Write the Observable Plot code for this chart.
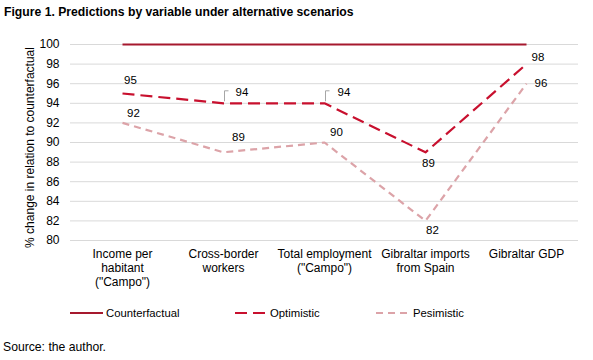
<!DOCTYPE html>
<html><head><meta charset="utf-8">
<script src="https://cdn.jsdelivr.net/npm/d3@7"></script>
<script src="https://cdn.jsdelivr.net/npm/@observablehq/plot@0.6"></script>
<style>
body{margin:0;width:593px;height:360px;background:#fff;font-family:"Liberation Sans",Arial,sans-serif;position:relative;overflow:hidden;color:#000}
#title{position:absolute;left:4px;top:5px;font-weight:bold;font-size:12.2px}
#chart{position:absolute;left:0;top:30px}
.item{position:absolute;top:305px;height:16px;display:flex;align-items:center;font-size:11.3px}
.item svg{margin-right:3px}
#source{position:absolute;left:3px;top:340px;font-size:12.2px}
</style></head><body>
<div id="title">Figure 1. Predictions by variable under alternative scenarios</div>
<div id="chart"></div>
<div class="item" style="left:70px"><svg width="33" height="4"><line x1="0" x2="33" y1="2" y2="2" stroke="#a6192e" stroke-width="2"/></svg>Counterfactual</div>
<div class="item" style="left:235px"><svg width="32" height="4"><line x1="0" x2="32" y1="2" y2="2" stroke="#c8102e" stroke-width="2.2" stroke-dasharray="12,6"/></svg>Optimistic</div>
<div class="item" style="left:376px"><svg width="34" height="4"><line x1="0" x2="34" y1="2" y2="2" stroke="#dca3a8" stroke-width="2.2" stroke-dasharray="7,5"/></svg>Pesimistic</div>
<div id="source">Source: the author.</div>
<script>
// ---- data ----
const categories = [
  "Income per\nhabitant\n(\"Campo\")",
  "Cross-border\nworkers",
  "Total employment\n(\"Campo\")",
  "Gibraltar imports\nfrom Spain",
  "Gibraltar GDP"
];
const counterfactual = [100, 100, 100, 100, 100];
const optimistic = [95, 94, 94, 89, 98];
const pesimistic = [92, 89, 90, 82, 96];
const yTicks = [80, 82, 84, 86, 88, 90, 92, 94, 96, 98, 100];
const seriesNames = ["Counterfactual", "Optimistic", "Pesimistic"];

// ---- styling / label placement (not data) ----
const colors = {Counterfactual: "#a6192e", Optimistic: "#c8102e", Pesimistic: "#dca3a8"};
const dashes = {Counterfactual: null, Optimistic: "12,6", Pesimistic: "7,5"};
const optLabelOffsets = [
  {dx: 8, dy: -13, anchor: "middle"},
  {dx: 12, dy: -11, anchor: "start", leader: true},
  {dx: 13, dy: -11, anchor: "start", leader: true},
  {dx: 3, dy: 11, anchor: "middle"},
  {dx: 5, dy: -7, anchor: "start"}
];
const pesLabelOffsets = [
  {dx: 11, dy: -10, anchor: "middle"},
  {dx: 15, dy: -15, anchor: "middle"},
  {dx: 12, dy: -10, anchor: "middle"},
  {dx: 7, dy: 9, anchor: "middle"},
  {dx: 8, dy: 0, anchor: "start"}
];

const seriesValues = [counterfactual, optimistic, pesimistic];
const rows = seriesNames.flatMap((s, si) => categories.map((c, i) => ({series: s, category: c, value: seriesValues[si][i]})));
const optRows = rows.filter(d => d.series === "Optimistic");
const pesRows = rows.filter(d => d.series === "Pesimistic");

function labelMarks(data, offs) {
  return data.map((d, i) => Plot.text([d], {
    x: "category", y: "value", text: d => String(d.value),
    dx: offs[i].dx, dy: offs[i].dy, textAnchor: offs[i].anchor,
    fill: "#000", fontSize: 11.5
  }));
}

function leaders(index, scales) {
  const g = d3.create("svg:g").attr("fill", "none").attr("stroke", "#a6a6a6").attr("stroke-width", 1);
  optRows.forEach((d, i) => {
    if (!optLabelOffsets[i].leader) return;
    const px = scales.x(d.category) + 1.5, py = scales.y(d.value);
    g.append("path").attr("d", `M${px},${py - 1.5}V${py - 12}H${px + 4}`);
  });
  return g.node();
}

const chart = Plot.plot({
  width: 593,
  height: 270,
  marginTop: 14,
  marginBottom: 60,
  marginLeft: 70,
  marginRight: 15,
  style: {fontFamily: "'Liberation Sans', Arial, sans-serif", fontSize: "12px", color: "#000", background: "#fff"},
  x: {type: "point", domain: categories, padding: 0.5, align: 0.5},
  y: {domain: [80, 100]},
  marks: [
    Plot.gridY(yTicks, {stroke: "#d9d9d9", strokeOpacity: 1, strokeWidth: 1}),
    Plot.axisY(yTicks, {tickSize: 0, tickPadding: 11, label: null, fontSize: 12}),
    Plot.axisX({tickSize: 0, tickPadding: 8, label: null, lineHeight: 1.15, fontSize: 12, lineAnchor: "top"}),
    Plot.text(["% change in relation to counterfactual"], {frameAnchor: "left", textAnchor: "middle", rotate: -90, dx: -40, dy: 5, fontSize: 12, fill: "#000"}),
    ...seriesNames.map(s => Plot.line(rows.filter(d => d.series === s), {
      x: "category", y: "value", stroke: colors[s], strokeWidth: 2.2,
      strokeDasharray: dashes[s], strokeLinecap: "butt", strokeLinejoin: "round"
    })),
    leaders,
    ...labelMarks(optRows, optLabelOffsets),
    ...labelMarks(pesRows, pesLabelOffsets)
  ]
});
document.getElementById("chart").appendChild(chart);
</script>
</body></html>
